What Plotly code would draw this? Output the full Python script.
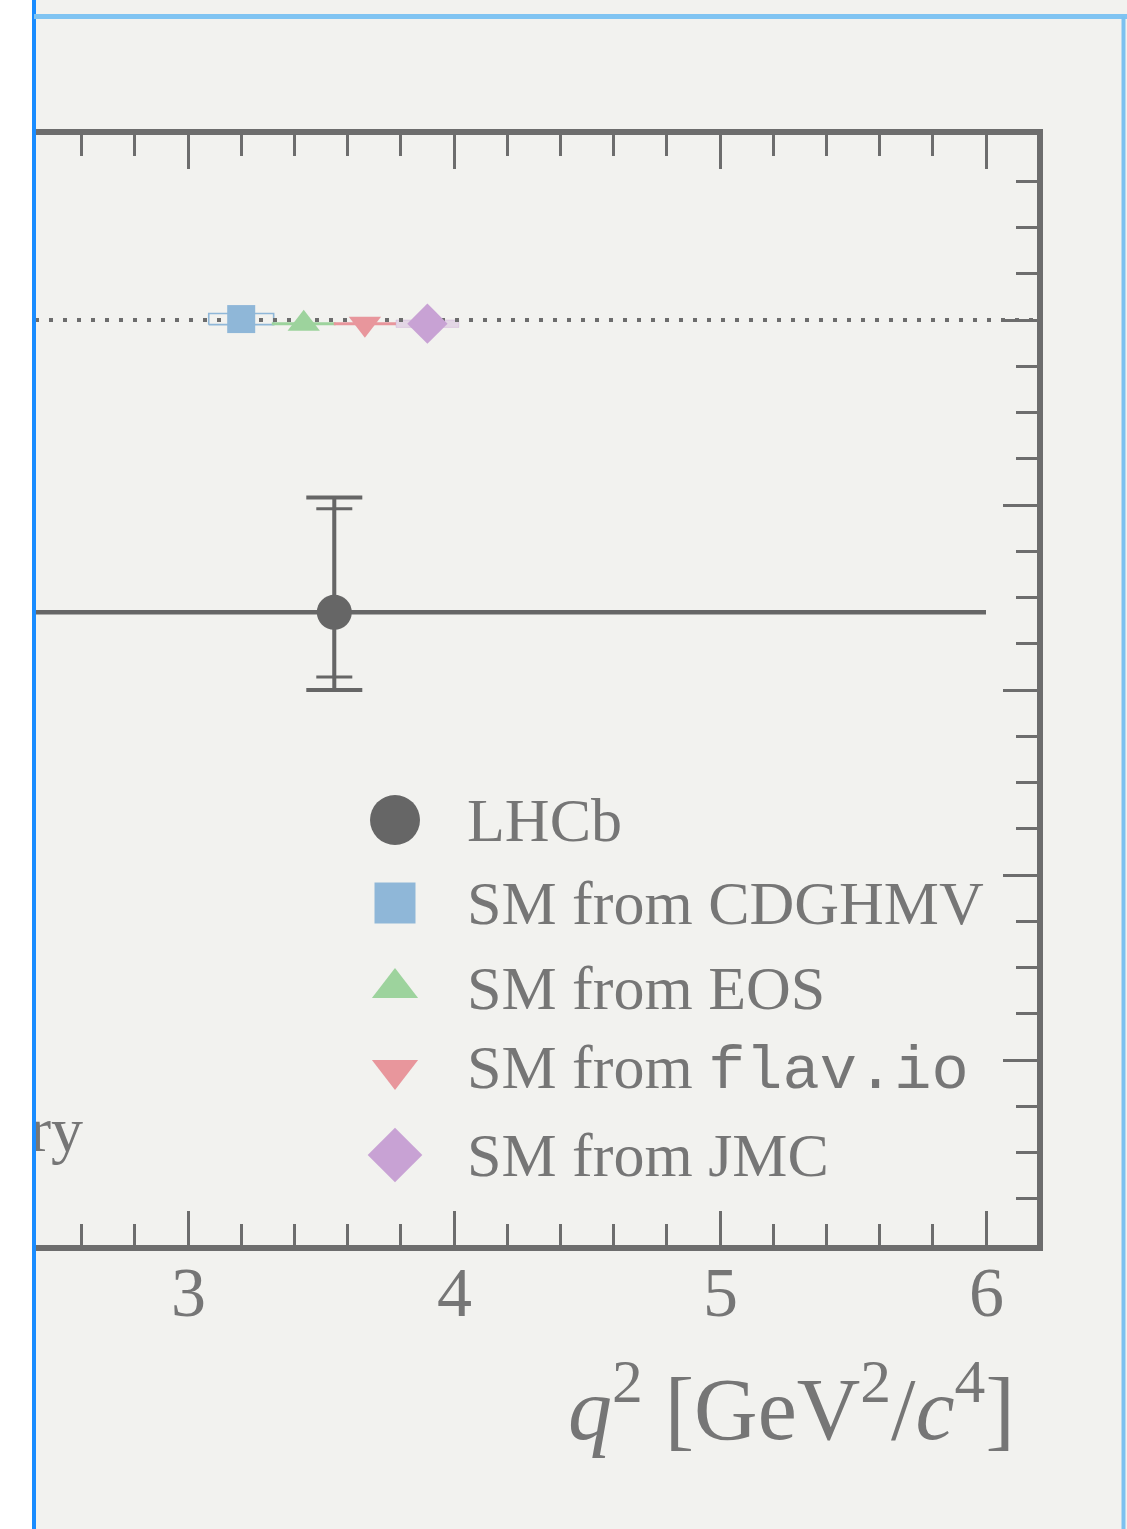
import plotly.graph_objects as go

# ---------------- data ----------------
lhcb_q2 = [3.55]
lhcb_q2_lo = [1.1]
lhcb_q2_hi = [6.0]
lhcb_val = [0.842]
lhcb_tot_up = [0.062]
lhcb_tot_dn = [0.042]
lhcb_stat_up = [0.056]
lhcb_stat_dn = [0.035]

sm_names = ["CDGHMV", "EOS", "flav.io", "JMC"]
sm_q2 = [3.20, 3.435, 3.665, 3.90]
sm_val = [1.0005, 0.998, 0.998, 0.998]
sm_q2_err = [0.122, 0.12, 0.117, 0.118]
sm_val_err = [0.003, 0.0, 0.0, 0.002]
sm_ref = 1.0

x_ticks = [3, 4, 5, 6]
legend_labels = ["LHCb", "SM from CDGHMV", "SM from EOS",
                 "SM from <span style='font-family:Liberation Mono'>flav.io</span>",
                 "SM from JMC"]

# ---------------- styles ----------------
BG = "#f2f2ef"
AX = "#6d6d6d"
TXT = "#767676"
C_LHCB = "#666666"
sm_colors = ["#8fb7d8", "#9dd39d", "#e8969c", "#c8a2d4"]
sm_symbols = ["square", "triangle-up", "triangle-down", "diamond"]
sm_sizes = [28, 28, 28, 31]
SERIF = "Liberation Serif"

W, H = 1127, 1529
L, R, T, B = 35, 1037, 135, 1245
PW, PH = R - L, B - T
x_range = [3 - (188 - L) / 266.0, 6 + (R - 986) / 266.0]
y_range = [0.5, 1.1]


def px_x(p):
    return (p - L) / PW


def px_y(p):
    return (B - p) / PH


fig = go.Figure()

# SM uncertainty boxes / lines
for i in range(len(sm_names)):
    x0, x1 = sm_q2[i] - sm_q2_err[i], sm_q2[i] + sm_q2_err[i]
    y0, y1 = sm_val[i] - sm_val_err[i], sm_val[i] + sm_val_err[i]
    if i == 0:
        fig.add_trace(go.Scatter(x=[x0, x1, x1, x0, x0], y=[y0, y0, y1, y1, y0],
                                 mode="lines", line=dict(color=sm_colors[i], width=1.6),
                                 hoverinfo="skip", showlegend=False))
    elif i == 3:
        fig.add_trace(go.Scatter(x=[x0, x1, x1, x0, x0], y=[y0, y0, y1, y1, y0],
                                 mode="lines", fill="toself",
                                 fillcolor="rgba(200,162,212,0.35)",
                                 line=dict(color="rgba(200,162,212,0.35)", width=1),
                                 hoverinfo="skip", showlegend=False))
    else:
        fig.add_trace(go.Scatter(x=[x0, x1], y=[y0, y0], mode="lines",
                                 line=dict(color=sm_colors[i], width=3),
                                 hoverinfo="skip", showlegend=False))

# SM reference dotted line
fig.add_trace(go.Scatter(x=x_range, y=[sm_ref, sm_ref], mode="lines",
                         line=dict(color=AX, width=4, dash="4px,10px"),
                         hoverinfo="skip", showlegend=False))

# LHCb total errors + bin width
fig.add_trace(go.Scatter(
    x=lhcb_q2, y=lhcb_val, mode="markers", marker=dict(size=1, opacity=0),
    error_y=dict(type="data", symmetric=False, array=lhcb_tot_up, arrayminus=lhcb_tot_dn,
                 color=C_LHCB, thickness=4, width=28),
    error_x=dict(type="data", symmetric=False,
                 array=[h - c for h, c in zip(lhcb_q2_hi, lhcb_q2)],
                 arrayminus=[c - l for l, c in zip(lhcb_q2_lo, lhcb_q2)],
                 color=C_LHCB, thickness=4.5, width=0),
    hoverinfo="skip", showlegend=False))
# LHCb stat errors
fig.add_trace(go.Scatter(
    x=lhcb_q2, y=lhcb_val, mode="markers", marker=dict(size=1, opacity=0),
    error_y=dict(type="data", symmetric=False, array=lhcb_stat_up, arrayminus=lhcb_stat_dn,
                 color=C_LHCB, thickness=3, width=18),
    hoverinfo="skip", showlegend=False))

# SM markers
for i in range(len(sm_names)):
    fig.add_trace(go.Scatter(x=[sm_q2[i]], y=[sm_val[i]], mode="markers",
                             marker=dict(symbol=sm_symbols[i], size=sm_sizes[i],
                                         color=sm_colors[i], opacity=1, line=dict(width=0)),
                             showlegend=False))

# LHCb marker
fig.add_trace(go.Scatter(x=lhcb_q2, y=lhcb_val, mode="markers",
                         marker=dict(symbol="circle", size=35, color=C_LHCB, opacity=1),
                         showlegend=False))

# partially cropped label at lower left (clipped by plot area)
fig.add_trace(go.Scatter(x=[x_range[0] + 48 / 266.0], y=[0.5595], mode="text",
                         text=["Theory"], textposition="middle left",
                         textfont=dict(family=SERIF, size=64, color=TXT),
                         cliponaxis=True, hoverinfo="skip", showlegend=False))

# manual legend glyphs on a pixel-like auxiliary axis
leg_x = [395] * 5
leg_y = [820, 903, 988, 1070, 1155]
leg_symbols = ["circle"] + sm_symbols
leg_colors = [C_LHCB] + sm_colors
leg_sizes = [50, 41, 40, 40, 42]
fig.add_trace(go.Scatter(x=leg_x, y=leg_y, mode="markers", xaxis="x3", yaxis="y3",
                         marker=dict(symbol=leg_symbols, size=leg_sizes, color=leg_colors,
                                     opacity=1, line=dict(width=0)),
                         cliponaxis=False, hoverinfo="skip", showlegend=False))
for lab, yy in zip(legend_labels, leg_y):
    fig.add_annotation(x=465, y=yy, xref="x3", yref="y3", text=lab, showarrow=False,
                       xanchor="left", yanchor="middle",
                       font=dict(family=SERIF, size=62, color=TXT))

# x tick labels
for v in x_ticks:
    fig.add_annotation(x=v, y=px_y(1292), xref="x", yref="paper", text=str(v),
                       showarrow=False, xanchor="center", yanchor="middle",
                       font=dict(family=SERIF, size=70, color=TXT))

# dummy trace for mirrored axes
fig.add_trace(go.Scatter(x=[None], y=[None], xaxis="x2", yaxis="y2", showlegend=False))

tick_common = dict(ticks="inside", ticklen=34, tickwidth=3, tickcolor=AX,
                   showline=True, linecolor=AX, linewidth=6, showgrid=False,
                   zeroline=False, showticklabels=False)
minor_x = dict(ticks="inside", ticklen=21, tickwidth=3, tickcolor=AX,
               dtick=0.2, tick0=0, showgrid=False)
minor_y = dict(ticks="inside", ticklen=21, tickwidth=3, tickcolor=AX,
               dtick=0.025, tick0=0, showgrid=False)

fig.update_layout(
    width=W, height=H,
    margin=dict(l=L, r=W - R, t=T, b=H - B, pad=0),
    paper_bgcolor=BG, plot_bgcolor=BG,
    showlegend=False,
    xaxis=dict(range=x_range, tickmode="linear", dtick=1, tick0=0, minor=minor_x,
               **tick_common),
    xaxis2=dict(range=x_range, overlaying="x", side="top", anchor="y",
                tickmode="linear", dtick=1, tick0=0, minor=minor_x, **tick_common),
    yaxis=dict(range=y_range, showline=False, ticks="", showticklabels=False,
               showgrid=False, zeroline=False),
    yaxis2=dict(range=y_range, overlaying="y", side="right", anchor="x",
                tickmode="linear", dtick=0.1, tick0=0, minor=minor_y, **tick_common),
    xaxis3=dict(range=[L, R], overlaying="x", visible=False, fixedrange=True),
    yaxis3=dict(range=[B, T], overlaying="y", visible=False, fixedrange=True),
)

# x-axis title
fig.add_annotation(x=px_x(1017), y=px_y(1402), xref="paper", yref="paper",
                   text="<i>q</i><sup>2</sup> [GeV<sup>2</sup>/<i>c</i><sup>4</sup>]",
                   showarrow=False, xanchor="right", yanchor="middle",
                   font=dict(family=SERIF, size=88, color=TXT))

# screenshot frame: white strip on the left and blue selection borders
fig.add_shape(type="rect", xref="paper", yref="paper",
              x0=px_x(0), x1=px_x(32), y0=px_y(H), y1=px_y(0),
              fillcolor="#ffffff", line=dict(width=0), layer="above")
fig.add_shape(type="line", xref="paper", yref="paper",
              x0=px_x(34), x1=px_x(34), y0=px_y(H), y1=px_y(0),
              line=dict(color="#1a8cff", width=4), layer="above")
fig.add_shape(type="line", xref="paper", yref="paper",
              x0=px_x(34), x1=px_x(W), y0=px_y(16.5), y1=px_y(16.5),
              line=dict(color="#80c4f2", width=5), layer="above")
fig.add_shape(type="line", xref="paper", yref="paper",
              x0=px_x(1123.5), x1=px_x(1123.5), y0=px_y(H), y1=px_y(16.5),
              line=dict(color="#7cc1f0", width=4), layer="above")

fig.write_html("out.html",
               config={"displayModeBar": False},
               post_script="document.body.style.margin='0px';"
                           "document.body.style.background='#f2f2ef';"
                           "document.body.style.overflow='hidden';")
